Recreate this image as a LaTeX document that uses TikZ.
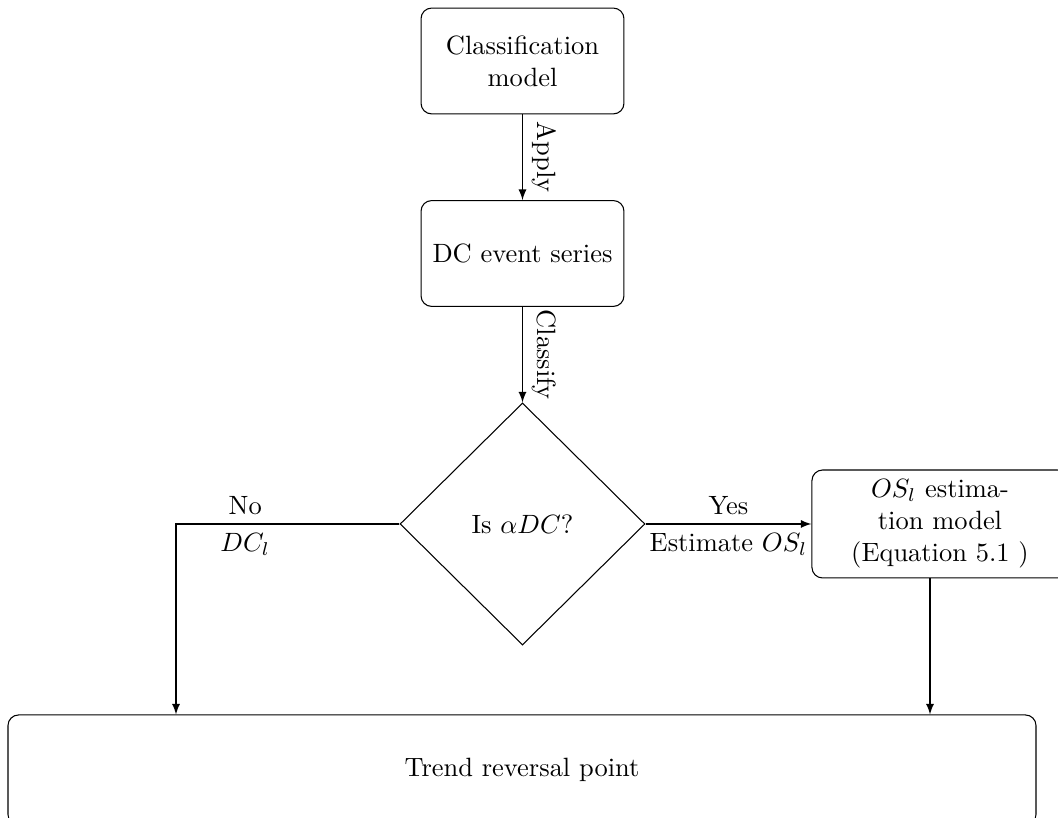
\documentclass[tikz,border=0pt]{standalone}
\usetikzlibrary{shapes.geometric,arrows}
\begin{document}
\begin{tikzpicture}[x=0.378pt,y=-0.378pt,
  procbox/.style={draw,rounded corners=4pt,align=center,inner sep=0pt},
  decision/.style={draw,diamond,aspect=1,inner sep=0pt,align=center},
  flow/.style={-latex}]
\clip (0,0) rectangle (1058,818);
\useasboundingbox (0,0) rectangle (1058,818);

\node[procbox,minimum width=76.7pt,minimum height=40pt,text width=60pt] (model) at (522.5,61) {Classification\\model};
\node[procbox,minimum width=76.7pt,minimum height=40pt] (series) at (522.5,253.5) {DC event series};
\node[decision,minimum width=92.6pt,minimum height=91.5pt] (isdc) at (522.5,524) {Is $\alpha DC$?};
\node[procbox,minimum width=96.8pt,minimum height=40.8pt] (osmodel) at (940,524) {$OS_l$ estima-\\tion model\\(Equation 5.1 )};
\node[procbox,minimum width=388.6pt,minimum height=41.6pt] (trend) at (522,770) {Trend reversal point};

\coordinate (bend) at (176,524);
\coordinate (osout) at (930,578);

\draw[flow] (model) -- node[midway,sloped,above] {Apply} (series);
\draw[flow] (series) -- node[midway,sloped,above] {Classify} (isdc);
\draw[flow] (isdc.west) -- node[pos=0.69,above] {No} node[pos=0.69,below] {$DC_l$} (bend) -- (bend |- trend.north);
\draw[flow] (isdc.east) -- node[midway,above] {Yes} node[midway,below] {Estimate $OS_l$} (osmodel.west);
\draw[flow] (osout) -- (osout |- trend.north);
\end{tikzpicture}
\end{document}
